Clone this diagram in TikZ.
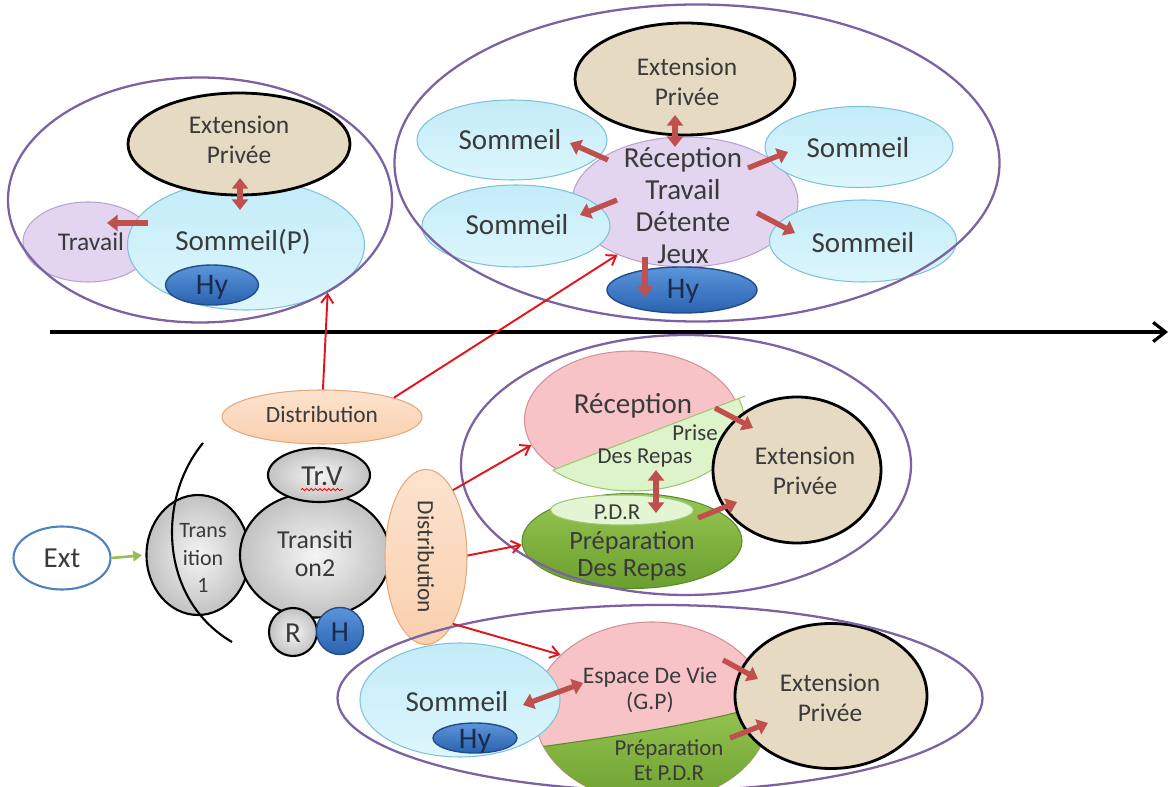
\documentclass[tikz,border=0pt]{standalone}
\usepackage{fontspec}
\setmainfont{Carlito}
\usetikzlibrary{arrows.meta,positioning,calc,shapes.geometric,decorations.pathmorphing}
\definecolor{Zone}{HTML}{7B62A3}
\definecolor{Sand}{HTML}{E6DAC2}
\definecolor{SkyTop}{HTML}{C3ECF8}
\definecolor{SkyBot}{HTML}{DDF6FC}
\definecolor{SkyLine}{HTML}{7CC3D8}
\definecolor{Lilac}{HTML}{E3D5EF}
\definecolor{LilacLine}{HTML}{B9A2D2}
\definecolor{HyTop}{HTML}{5B95DA}
\definecolor{HyBot}{HTML}{2A62B0}
\definecolor{HyLine}{HTML}{234C88}
\definecolor{Peach}{HTML}{FAD0AE}
\definecolor{PeachLine}{HTML}{E4A879}
\definecolor{Rose}{HTML}{F7C3C7}
\definecolor{RoseLine}{HTML}{D39198}
\definecolor{Mint}{HTML}{DDF3C9}
\definecolor{MintLine}{HTML}{9CC874}
\definecolor{LeafTop}{HTML}{98C653}
\definecolor{LeafBot}{HTML}{6A9E2E}
\definecolor{LeafLine}{HTML}{5B8C2A}
\definecolor{BarRed}{HTML}{C0504D}
\definecolor{LinkRed}{HTML}{E3141C}
\definecolor{ArrGreen}{HTML}{9BBB59}
\definecolor{ExtBlue}{HTML}{4F81BD}
\definecolor{Ink}{HTML}{3A3A3A}
\definecolor{Navy}{HTML}{1B2B4B}
\newcommand{\fbig}{\fontsize{16.5}{18.2}\selectfont}
\newcommand{\fmid}{\fontsize{14.5}{17}\selectfont}
\newcommand{\fsml}{\fontsize{13}{15.5}\selectfont}
\newcommand{\fhy}{\fontsize{17}{19}\selectfont}

\begin{document}
\begin{tikzpicture}[
    x=0.02cm, y=-0.02cm,
    sz/.style 2 args={minimum width=#1*0.02cm, minimum height=#2*0.02cm},
    bub/.style={ellipse, inner sep=0pt},
    zone/.style={bub, draw=Zone, line width=1.3pt},
    ext/.style={bub, draw=black, line width=1.6pt, fill=Sand},
    sky/.style={bub, draw=SkyLine, line width=.6pt, top color=SkyTop, bottom color=SkyBot},
    lilac/.style={bub, draw=LilacLine, line width=.6pt, fill=Lilac},
    hy/.style={bub, draw=HyLine, line width=.8pt, top color=HyTop, bottom color=HyBot},
    grey/.style={bub, draw=black, line width=1.2pt, inner color=gray!8, outer color=gray!48},
    peach/.style={bub, draw=PeachLine, line width=.6pt, top color=Peach!60!white, bottom color=Peach},
    rose/.style={bub, draw=RoseLine, line width=.6pt, fill=Rose},
    leaf/.style={bub, draw=LeafLine, line width=.6pt, top color=LeafTop, bottom color=LeafBot},
    txt/.style={text=Ink, align=center, inner sep=0pt},
    bar/.style={draw=BarRed, line width=3pt, -{Triangle[width=9pt,length=6pt]}},
    barb/.style={bar, {Triangle[width=9pt,length=6pt]}-{Triangle[width=9pt,length=6pt]}},
    link/.style={draw=LinkRed, line width=1.1pt, -{Straight Barb[length=5pt,width=7pt]}},
  ]
  \useasboundingbox (0,0) rectangle (1171,787);

  % Top left zone
  \node[lilac, sz={130}{80}] (tlTrav) at (88,242) {};
  \node[sky, sz={237}{130}] (tlSom) at (246,245) {};
  \node[hy, sz={93}{40}] (tlHy) at (212,285) {};
  \node[ext, sz={222}{102}] (tlExt) at (239,144) {};
  \node[txt, font=\fmid] (tlTravT) at (91,242) {Travail};
  \node[txt, font=\fbig] (tlSomT) at (243,242) {Sommeil(P)};
  \node[txt, font=\fhy, text=Navy] (tlHyT) at (212,287) {Hy};
  \node[txt, font=\fmid] (tlExtT) at (239,140) {Extension\\Privée};

  % Top right zone
  \node[lilac, sz={226}{130}] (trCtr) at (685,202) {};
  \node[sky, sz={190}{80}] (trSomA) at (512,140) {};
  \node[sky, sz={188}{82}] (trSomB) at (516,226) {};
  \node[sky, sz={188}{81}] (trSomC) at (859,147) {};
  \node[sky, sz={187}{82}] (trSomD) at (863,241) {};
  \node[hy, sz={150}{46}] (trHy) at (682,290) {};
  \node[ext, sz={220}{112}] (trExt) at (685,79) {};
  \node[txt, font=\fbig] (trSomAT) at (510,140) {Sommeil};
  \node[txt, font=\fbig] (trSomBT) at (517,225) {Sommeil};
  \node[txt, font=\fbig] (trSomCT) at (858,148) {Sommeil};
  \node[txt, font=\fbig] (trSomDT) at (863,243) {Sommeil};
  \node[txt, font=\fbig] (trCtrT) at (683,206) {Réception\\Travail\\Détente\\Jeux};
  \node[txt, font=\fhy, text=Navy] (trHyT) at (683,291) {Hy};
  \node[txt, font=\fmid] (trExtT) at (687,82) {Extension\\Privée};

  % Time axis
  \coordinate (axL) at (50,332);
  \coordinate (axR) at (1168,332);
  \draw[line width=1.8pt, -{Straight Barb[length=7pt,width=11pt]}] (axL) -- (axR);

  % Entrance and transitions
  \node[bub, draw=ExtBlue, line width=1.2pt, fill=white, sz={97}{63}] (ext) at (62,558) {};
  \node[txt, font=\fbig] (extT) at (62,558) {Ext};
  \node[grey, sz={103}{120}] (tra1) at (198,555) {};
  \draw[line width=1.2pt] (203,443) .. controls (156,500) and (160,600) .. (232,642);
  \node[grey, sz={150}{125}] (tra2) at (315,555) {};
  \node[grey, sz={102}{54}] (trv) at (319,475) {};
  \node[grey, sz={48}{48}] (rR) at (293,632) {};
  \node[hy, sz={47}{47}] (rH) at (340,631) {};
  \node[peach, sz={82}{175}] (distV) at (426,557) {};
  \node[peach, sz={200}{54}] (distH) at (322,417) {};
  \node[txt, font=\fontsize{12.5}{15.9}\selectfont] (tra1T) at (203,558) {Trans\\ition\\1};
  \node[txt, font=\fontsize{14.7}{15.9}\selectfont] (tra2T) at (315,554) {Transiti\\on2};
  \node[txt, font=\fbig] (trvT) at (322,476) {Tr.V};
  \draw[red, line width=.5pt, decorate, decoration={snake, amplitude=.6pt, segment length=2.5pt}]
    ([yshift=-2.5pt]trvT.base west) -- ([yshift=-2.5pt]trvT.base east);
  \node[txt, font=\fbig] (rRT) at (293,633) {R};
  \node[txt, font=\fbig, text=Navy] (rHT) at (340,632) {H};
  \node[txt, font=\fontsize{13.3}{15}\selectfont, rotate=-90] (distVT) at (426,557) {Distribution};
  \node[txt, font=\fontsize{13.3}{15}\selectfont] (distHT) at (322,414) {Distribution};
  \draw[ArrGreen, line width=1.5pt, -{Triangle[length=5pt,width=6pt]}, shorten >=2pt] (ext.east) -- (tra1.west);

  % Middle zone
  \node[rose, sz={215}{138}] (recA) at (632,420) {};
  \begin{scope}
    \clip (553,470) -- (745,396) -- (780,520) -- (520,520) -- cycle;
    \path[draw=MintLine, fill=Mint, line width=.6pt] (recA.center) ellipse [x radius=112, y radius=71];
  \end{scope}
  \draw[MintLine, line width=.6pt] (553,470) -- (745,396);
  \node[leaf, sz={220}{95}] (prep) at (632,541) {};
  \node[bub, draw=MintLine, line width=.6pt, fill=Mint!80!white, sz={143}{30}] (pdr) at (622,510) {};
  \node[ext, sz={168}{146}] (mcExt) at (797,470) {};
  \node[txt, font=\fbig] (recAT) at (633,406) {Réception};
  \node[txt, font=\fsml] (priseT) at (695,433) {Prise};
  \node[txt, font=\fsml] (repasT) at (645,458) {Des Repas};
  \node[txt, font=\fsml] (pdrT) at (617,512) {P.D.R};
  \node[txt, font=\fontsize{15}{15.9}\selectfont] (prepT) at (632,556) {Préparation\\Des Repas};
  \node[txt, font=\fmid] (mcExtT) at (805,471) {Extension\\Privée};

  % Bottom zone
  \node[rose, sz={235}{180}] (espace) at (652,712) {};
  \begin{scope}
    \clip (espace.center) ellipse [x radius=117.5, y radius=90];
    \shade[top color=LeafTop, bottom color=LeafBot] (520,750) .. controls (600,738) and (690,728) .. (790,698)
      -- (790,810) -- (520,810) -- cycle;
    \draw[LeafLine, line width=.6pt] (520,750) .. controls (600,738) and (690,728) .. (790,698);
  \end{scope}
  \node[sky, sz={200}{114}] (bcSom) at (460,700) {};
  \node[hy, sz={84}{30}] (bcHy) at (475,738) {};
  \node[ext, sz={192}{145}] (bcExt) at (831,696) {};
  \node[txt, font=\fbig] (bcSomT) at (457,702) {Sommeil};
  \node[txt, font=\fhy, text=Navy] (bcHyT) at (475,741) {Hy};
  \node[txt, font=\fontsize{13.5}{14.5}\selectfont] (espaceT) at (650,690) {Espace De Vie\\(G.P)};
  \node[txt, font=\fontsize{13}{14.5}\selectfont] (espPrepT) at (669,760) {Préparation\\Et P.D.R};
  \node[txt, font=\fmid] (bcExtT) at (830,698) {Extension\\Privée};

  % Zone outlines
  \node[zone, sz={384}{245}] (tlOut) at (200,200) {};
  \node[zone, sz={605}{317}] (trOut) at (697,163) {};
  \node[zone, sz={450}{260}] (mcOut) at (686,465) {};
  \node[zone, sz={645}{186}] (bcOut) at (660,698) {};

  % Distribution links
  \draw[link] (distH.88) -- (tlOut.-36);
  \draw[link] (distH.15) -- (trCtr.-142);
  \draw[link] (distV.68) -- (recA.-166);
  \draw[link] (distV.2) -- (prep.182);
  \draw[link] (distV.-68) -- (espace.148);

  % Block arrows
  \draw[barb] ($(tlExt)+(1,34)$) -- ($(tlSom)+(-6,-35)$);
  \draw[bar] ($(tlSom)+(-98,-22)$) -- ($(tlTrav)+(19,-19)$);
  \draw[barb] ($(trExt)+(-10,36)$) -- ($(trCtr)+(-10,-55)$);
  \draw[bar] ($(trCtr)+(-77,-42)$) -- ($(trSomA)+(58,3)$);
  \draw[bar] ($(trCtr)+(-68,-2)$) -- ($(trSomB)+(64,-11)$);
  \draw[bar] ($(trCtr)+(63,-34)$) -- ($(trSomC)+(-71,5)$);
  \draw[bar] ($(trCtr)+(72,11)$) -- ($(trSomD)+(-68,-8)$);
  \draw[bar] ($(trCtr)+(-40,55)$) -- ($(trHy)+(-37,7)$);
  \draw[bar] ($(recA)+(83,-12)$) -- ($(mcExt)+(-44,-42)$);
  \draw[bar] ($(prep)+(66,-23)$) -- ($(mcExt)+(-60,32)$);
  \draw[barb] ($(recA)+(24,50)$) -- ($(prep)+(24,-28)$);
  \draw[barb] ($(bcSom)+(63,5)$) -- ($(espace)+(-69,-29)$);
  \draw[bar] ($(espace)+(71,-52)$) -- ($(bcExt)+(-73,-17)$);
  \draw[bar] ($(espace)+(78,26)$) -- ($(bcExt)+(-63,27)$);
\end{tikzpicture}
\end{document}
